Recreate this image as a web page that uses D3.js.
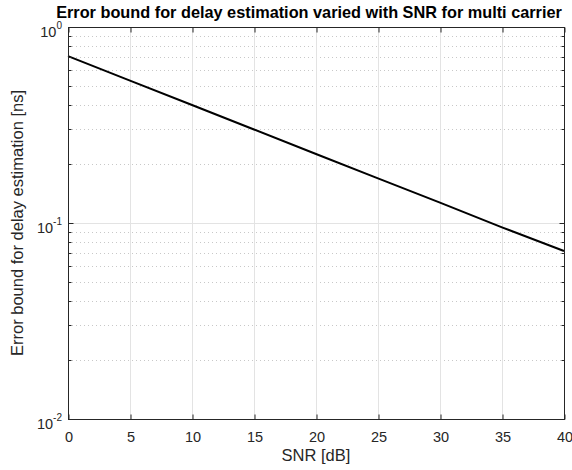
<!DOCTYPE html>
<html><head><meta charset="utf-8">
<script src="https://cdn.jsdelivr.net/npm/d3@7"></script>
<style>body{margin:0;background:#fff}svg{display:block}text{font-family:"Liberation Sans",Arial,Helvetica,sans-serif}</style>
</head><body><svg id="c" width="572" height="470"></svg>
<script>
const snrDb = [0, 5, 10, 15, 20, 25, 30, 35, 40];
const errorBound = [0.71, 0.533, 0.40, 0.30, 0.225, 0.169, 0.127, 0.095, 0.072];
const xTicks = [0, 5, 10, 15, 20, 25, 30, 35, 40];
const yDecades = [-2, -1, 0];
const titleText = "Error bound for delay estimation varied with SNR for multi carrier";
const xLabelText = "SNR [dB]";
const yLabelText = "Error bound for delay estimation [ns]";

const m = {l: 68, r: 564, t: 27, b: 419};
const svg = d3.select("#c");
const x = d3.scaleLinear().domain([0, 40]).range([m.l, m.r]);
const y = d3.scaleLog().domain([0.01, 1]).range([m.b, m.t]);
const axisCol = "#262626";

const minor = [];
for (let e = -2; e < 0; e++) for (let k = 2; k <= 9; k++) minor.push(k * Math.pow(10, e));
const major = yDecades.map(e => Math.pow(10, e));

const g = svg.append("g");
g.selectAll(".mg").data(minor).enter().append("line")
  .attr("x1", m.l).attr("x2", m.r).attr("y1", d => Math.round(y(d)) + 0.5).attr("y2", d => Math.round(y(d)) + 0.5)
  .attr("stroke", "#c8c8c8").attr("stroke-width", 1).attr("stroke-dasharray", "1,3");
g.selectAll(".Mg").data(major).enter().append("line")
  .attr("x1", m.l).attr("x2", m.r).attr("y1", d => Math.round(y(d)) + 0.5).attr("y2", d => Math.round(y(d)) + 0.5)
  .attr("stroke", "#e3e3e3").attr("stroke-width", 1);
g.selectAll(".xg").data(xTicks).enter().append("line")
  .attr("x1", d => Math.round(x(d)) + 0.5).attr("x2", d => Math.round(x(d)) + 0.5).attr("y1", m.t).attr("y2", m.b)
  .attr("stroke", "#e3e3e3").attr("stroke-width", 1);

const line = d3.line().x((d, i) => x(snrDb[i])).y(d => y(d));
svg.append("path").datum(errorBound).attr("d", line)
  .attr("fill", "none").attr("stroke", "#000").attr("stroke-width", 2);

svg.append("rect").attr("x", m.l + 0.5).attr("y", m.t + 0.5).attr("width", m.r - m.l).attr("height", m.b - m.t)
  .attr("fill", "none").attr("stroke", axisCol).attr("stroke-width", 1);

const xb = svg.append("g").attr("transform", `translate(0.5,${m.b + 0.5})`)
  .call(d3.axisBottom(x).tickValues(xTicks).tickSizeInner(-5).tickSizeOuter(0).tickFormat(d3.format("d")).tickPadding(12));
xb.select(".domain").remove();
xb.selectAll("line").attr("stroke", axisCol);
xb.selectAll("text").attr("fill", axisCol).style("font-size", "14.5px").attr("dy", "0.71em");
const xt = svg.append("g").attr("transform", `translate(0.5,${m.t + 0.5})`)
  .call(d3.axisTop(x).tickValues(xTicks).tickSizeInner(-5).tickSizeOuter(0).tickFormat(""));
xt.select(".domain").remove(); xt.selectAll("line").attr("stroke", axisCol);

["left", "right"].forEach(side => {
  const xx = side === "left" ? m.l + 0.5 : m.r + 0.5;
  const dir = side === "left" ? 1 : -1;
  svg.append("g").selectAll("line").data(major).enter().append("line")
    .attr("x1", xx).attr("x2", xx + dir * 5).attr("y1", d => Math.round(y(d)) + 0.5).attr("y2", d => Math.round(y(d)) + 0.5)
    .attr("stroke", axisCol);
  svg.append("g").selectAll("line").data(minor).enter().append("line")
    .attr("x1", xx).attr("x2", xx + dir * 3).attr("y1", d => Math.round(y(d)) + 0.5).attr("y2", d => Math.round(y(d)) + 0.5)
    .attr("stroke", axisCol);
});

yDecades.forEach(e => {
  const t = svg.append("text").attr("x", m.l - 6).attr("y", y(Math.pow(10, e)) + 10)
    .attr("text-anchor", "end").attr("fill", axisCol).style("font-size", "14.5px");
  t.append("tspan").text("10");
  t.append("tspan").attr("dy", -8.5).style("font-size", "10px").text(String(e));
});

svg.append("text").attr("x", (m.l + m.r) / 2).attr("y", 461).attr("text-anchor", "middle")
  .attr("fill", axisCol).style("font-size", "16.5px").text(xLabelText);
svg.append("text").attr("transform", `translate(23,${(m.t + m.b) / 2}) rotate(-90)`).attr("text-anchor", "middle")
  .attr("fill", axisCol).style("font-size", "16.5px").text(yLabelText);
svg.append("text").attr("x", 309).attr("y", 17.5).attr("text-anchor", "middle")
  .attr("fill", "#000").style("font-size", "16.3px").style("font-weight", "bold").text(titleText);
</script></body></html>
